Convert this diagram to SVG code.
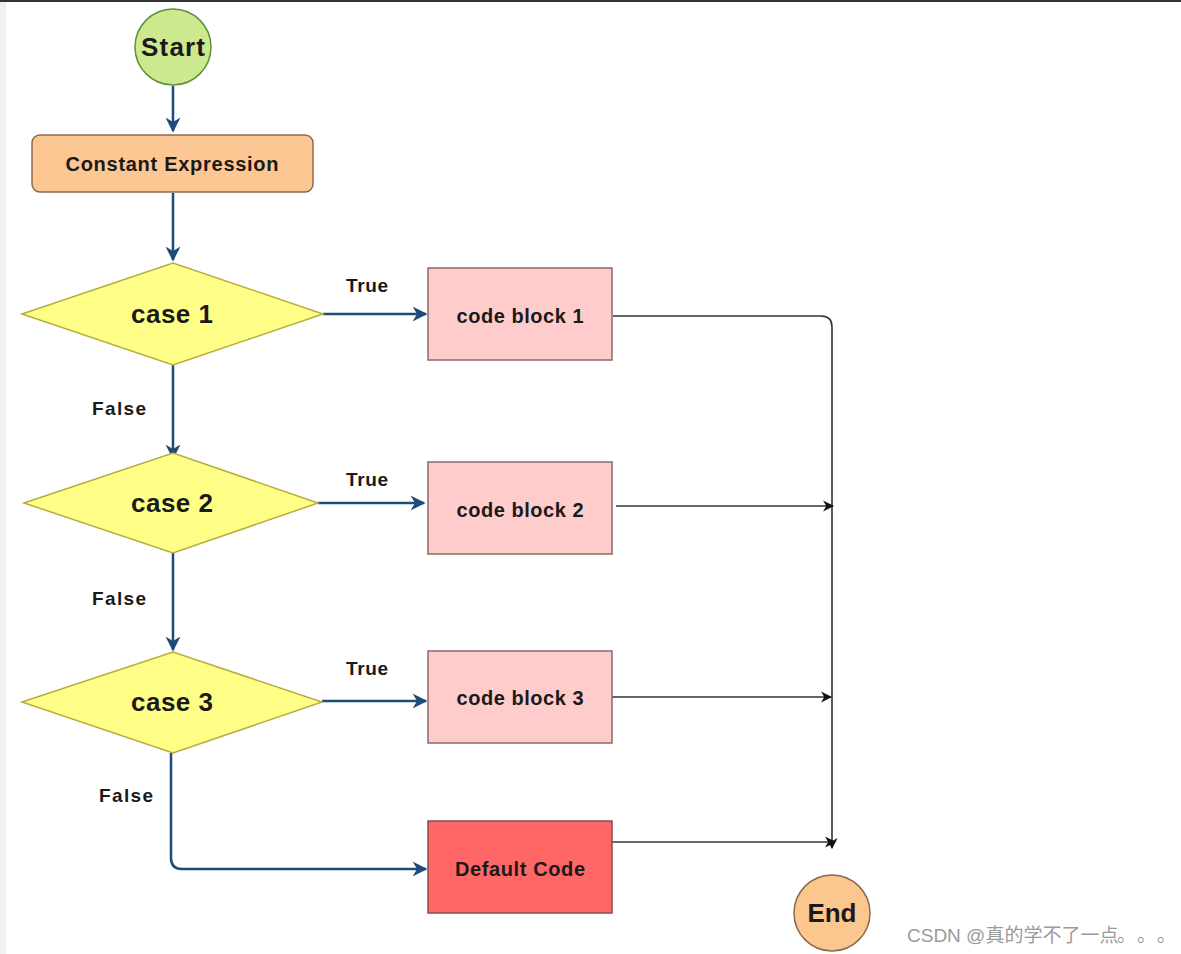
<svg xmlns="http://www.w3.org/2000/svg" width="1181" height="954" viewBox="0 0 1181 954">
<style>
.lbl{font-family:"Liberation Sans",Arial,sans-serif;font-weight:bold;fill:#1a1a1a;text-anchor:middle;dominant-baseline:central}
.blue{fill:none;stroke:#1f4b7a;stroke-width:2.5}
.blk{fill:none;stroke:#333;stroke-width:1.6}
.dia{fill:#ffff88;stroke:#b5ad3c;stroke-width:1.5}
.code{fill:#ffcccc;stroke:#8c6b6b;stroke-width:1.5}
</style>
<defs>
<marker id="ab" viewBox="0 0 10 10" refX="9" refY="5" markerWidth="6" markerHeight="6" orient="auto" markerUnits="strokeWidth">
<path d="M0,0 L10,5 L0,10 L3,5 Z" fill="#1f4b7a"/>
</marker>
<marker id="ak" viewBox="0 0 10 10" refX="9" refY="5" markerWidth="7" markerHeight="7" orient="auto" markerUnits="strokeWidth">
<path d="M0,0 L10,5 L0,10 L3,5 Z" fill="#111"/>
</marker>
</defs>
<rect width="1181" height="954" fill="#ffffff"/>
<rect x="0" y="0" width="6" height="954" fill="#f1f1f1"/>
<rect x="0" y="0" width="1181" height="2" fill="#333"/>

<g id="connectors">
<path class="blue" d="M173,86 L173,131" marker-end="url(#ab)"/>
<path class="blue" d="M173,193 L173,260" marker-end="url(#ab)"/>
<path class="blue" d="M173,365 L173,458" marker-end="url(#ab)"/>
<path class="blue" d="M173,553 L173,650" marker-end="url(#ab)"/>
<path class="blue" d="M323,314 L426,314" marker-end="url(#ab)"/>
<path class="blue" d="M318,503 L424,503" marker-end="url(#ab)"/>
<path class="blue" d="M322,701 L426,701" marker-end="url(#ab)"/>
<path class="blue" d="M171,753 L171,858 Q171,869 182,869 L426,869" marker-end="url(#ab)"/>
<path class="blk" d="M613,316 L821,316 Q832,316 832,327 L832,848" marker-end="url(#ak)"/>
<path class="blk" d="M616,506 L833,506" marker-end="url(#ak)"/>
<path class="blk" d="M612,697 L831,697" marker-end="url(#ak)"/>
<path class="blk" d="M612,842 L835,842" marker-end="url(#ak)"/>
<text class="lbl" x="367" y="285" font-size="19" textLength="42" lengthAdjust="spacing">True</text>
<text class="lbl" x="367" y="479" font-size="19" textLength="42" lengthAdjust="spacing">True</text>
<text class="lbl" x="367" y="668" font-size="19" textLength="42" lengthAdjust="spacing">True</text>
<text class="lbl" x="119" y="408" font-size="19" textLength="54" lengthAdjust="spacing">False</text>
<text class="lbl" x="119" y="598" font-size="19" textLength="54" lengthAdjust="spacing">False</text>
<text class="lbl" x="126" y="795" font-size="19" textLength="54" lengthAdjust="spacing">False</text>
</g>

<g id="start">
<circle cx="173" cy="47" r="38" fill="#cde98e" stroke="#5f8f3a" stroke-width="1.5"/>
<text class="lbl" x="173" y="47" font-size="26" textLength="64" lengthAdjust="spacing">Start</text>
</g>
<g id="constant">
<rect x="32" y="135" width="281" height="57" rx="8" fill="#fdc793" stroke="#8a6a4c" stroke-width="1.5"/>
<text class="lbl" x="172" y="164" font-size="20" textLength="213" lengthAdjust="spacing">Constant Expression</text>
</g>
<g id="case1">
<polygon class="dia" points="22,314 173,263 323,314 173,365"/>
<text class="lbl" x="172" y="314" font-size="26" textLength="82" lengthAdjust="spacing">case 1</text>
</g>
<g id="case2">
<polygon class="dia" points="24,503 173,453 318,503 173,553"/>
<text class="lbl" x="172" y="503" font-size="26" textLength="82" lengthAdjust="spacing">case 2</text>
</g>
<g id="case3">
<polygon class="dia" points="22,702 173,652 322,702 173,753"/>
<text class="lbl" x="172" y="702" font-size="26" textLength="82" lengthAdjust="spacing">case 3</text>
</g>
<g id="code1">
<rect class="code" x="428" y="268" width="184" height="92"/>
<text class="lbl" x="520" y="316" font-size="20" textLength="127" lengthAdjust="spacing">code block 1</text>
</g>
<g id="code2">
<rect class="code" x="428" y="462" width="184" height="92"/>
<text class="lbl" x="520" y="510" font-size="20" textLength="127" lengthAdjust="spacing">code block 2</text>
</g>
<g id="code3">
<rect class="code" x="428" y="651" width="184" height="92"/>
<text class="lbl" x="520" y="698" font-size="20" textLength="127" lengthAdjust="spacing">code block 3</text>
</g>
<g id="default">
<rect x="428" y="821" width="184" height="92" fill="#ff6666" stroke="#8c4a4a" stroke-width="1.5"/>
<text class="lbl" x="520" y="869" font-size="20" textLength="130" lengthAdjust="spacing">Default Code</text>
</g>
<g id="end">
<circle cx="832" cy="913" r="38" fill="#fcc68f" stroke="#8a6a4c" stroke-width="1.5"/>
<text class="lbl" x="832" y="913" font-size="26" textLength="49" lengthAdjust="spacing">End</text>
</g>
<text x="907" y="942" font-family="'Liberation Sans','Noto Sans CJK SC',sans-serif" font-size="19" fill="#9a9a9a">CSDN @真的学不了一点<tspan x="1117">。</tspan><tspan x="1137">。</tspan><tspan x="1157">。</tspan></text>
</svg>
